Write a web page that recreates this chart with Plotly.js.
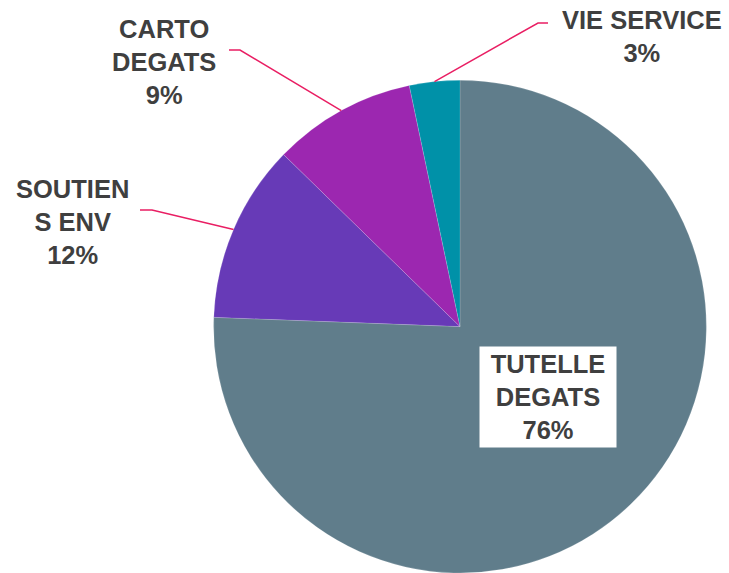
<!DOCTYPE html>
<html>
<head>
<meta charset="utf-8">
<script src="https://cdn.plot.ly/plotly-3.0.1.min.js"></script>
<style>html,body{margin:0;padding:0;background:#fff;}#chart{width:729px;height:573px;}</style>
</head>
<body>
<div id="chart"></div>
<script>
var labels = ["TUTELLE DEGATS", "SOUTIENS ENV", "CARTO DEGATS", "VIE SERVICE"];
var labelText = ["TUTELLE<br>DEGATS", "SOUTIEN<br>S ENV", "CARTO<br>DEGATS", "VIE SERVICE"];
var values = [75.6, 11.7, 9.4, 3.3];
var colors = ["#607d8b", "#673ab7", "#9c27b0", "#0091a8"];

var W = 729, H = 573;
var domX = [0.292, 0.970], domY = [0, 0.86];
var cx = W * (domX[0] + domX[1]) / 2;
var cy = H * (1 - (domY[0] + domY[1]) / 2);
var R = Math.min(W * (domX[1] - domX[0]), H * (domY[1] - domY[0])) / 2;

var total = values.reduce(function (a, b) { return a + b; }, 0);
var pct = values.map(function (v) { return Math.round(100 * v / total); });

// label placement (pixels): centre of label and elbow of leader line
var labelPos = [
  {x: 548, y: 397, box: true},
  {x: 72, y: 222, elbow: [[140, 210], [152, 210]]},
  {x: 164, y: 62, elbow: [[229, 50], [240, 50]]},
  {x: 642, y: 36.5, elbow: [[548, 23], [538, 23]]}
];

function px(x) { return x / W; }
function py(y) { return 1 - y / H; }

var annotations = [], shapes = [];
var cum = 0;
for (var i = 0; i < values.length; i++) {
  var mid = (cum + values[i] / 2) / total;
  cum += values[i];
  var ang = mid * 2 * Math.PI;
  // clockwise from 12 o'clock
  var ax = cx + R * Math.sin(ang);
  var ay = cy - R * Math.cos(ang);
  var lp = labelPos[i];
  var a = {
    text: "<b>" + labelText[i] + "<br>" + pct[i] + "%</b>",
    x: px(lp.x), y: py(lp.y), xref: "paper", yref: "paper",
    xanchor: "center", yanchor: "middle", showarrow: false,
    font: {family: "Liberation Sans, Arial, sans-serif", size: 25.5, color: "#3f3f3f"},
    align: "center"
  };
  if (lp.box) {
    a.bgcolor = "#ffffff";
    a.width = 130; a.height = 94; a.borderpad = 3;
  }
  annotations.push(a);
  if (lp.elbow) {
    var p = "M " + px(lp.elbow[0][0]) + "," + py(lp.elbow[0][1]) +
            " L " + px(lp.elbow[1][0]) + "," + py(lp.elbow[1][1]) +
            " L " + px(ax) + "," + py(ay);
    shapes.push({type: "path", xref: "paper", yref: "paper", path: p,
                 line: {color: "#e91e63", width: 1.5}});
  }
}

var data = [{
  type: "pie",
  labels: labels,
  values: values,
  sort: false,
  direction: "clockwise",
  rotation: 0,
  textinfo: "none",
  hoverinfo: "label+percent",
  marker: {colors: colors, line: {color: "rgba(255,255,255,0.3)", width: 0.5}},
  domain: {x: domX, y: domY},
  showlegend: false
}];

var layout = {
  width: W, height: H,
  margin: {l: 0, r: 0, t: 0, b: 0},
  paper_bgcolor: "#ffffff",
  showlegend: false,
  annotations: annotations,
  shapes: shapes
};

Plotly.newPlot("chart", data, layout, {displayModeBar: false, staticPlot: true});
</script>
</body>
</html>
